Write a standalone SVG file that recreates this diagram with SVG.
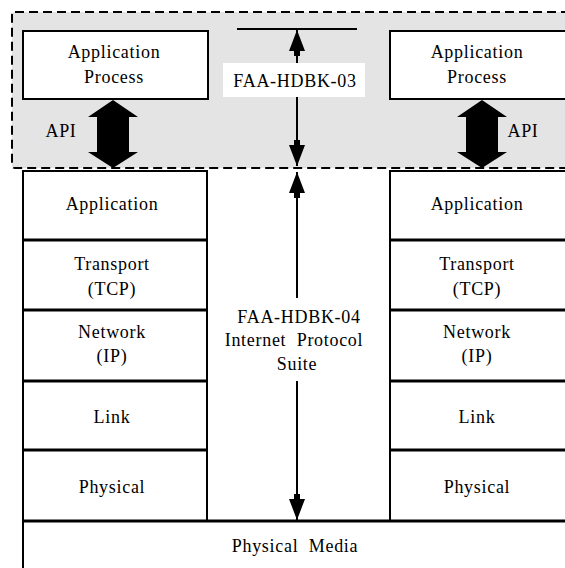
<svg xmlns="http://www.w3.org/2000/svg" width="565" height="568" viewBox="0 0 565 568">
<style>
.box{fill:#fff;stroke:#000;stroke-width:2}
.div{stroke:#000;stroke-width:3;fill:none}
.t{font-family:"Liberation Serif",serif;font-size:18px;fill:#000;text-anchor:middle;letter-spacing:0.7px}
.thin{stroke:#000;stroke-width:2;fill:none}
.big{fill:#000}
</style>
<defs>
<marker id="head" viewBox="-27 -9 28 18" refX="0" refY="0" markerWidth="28" markerHeight="18" markerUnits="userSpaceOnUse" orient="auto-start-reverse">
<path d="M0,0 L-21,-8 L-21,-3 L-26,-3 L-26,3 L-21,3 L-21,8 Z" fill="#000"/>
</marker>
</defs>
<rect id="region" x="12" y="12" width="560" height="156" rx="3" fill="#e4e4e4" stroke="#000" stroke-width="2" stroke-dasharray="9 5"/>

<g id="app-process-left">
<rect class="box" x="23" y="31" width="185" height="68"/>
<text class="t" x="114" y="58">Application</text>
<text class="t" x="114" y="83">Process</text>
</g>
<g id="app-process-right">
<rect class="box" x="390" y="31" width="180" height="68"/>
<text class="t" x="477" y="58">Application</text>
<text class="t" x="477" y="83">Process</text>
</g>

<g id="stack-left">
<rect class="box" x="23" y="171" width="184" height="350"/>
<path class="div" d="M23,240H207M23,310H207M23,381H207M23,450H207"/>
<text class="t" x="112" y="210">Application</text>
<text class="t" x="112" y="270">Transport</text>
<text class="t" x="112" y="295">(TCP)</text>
<text class="t" x="112" y="338">Network</text>
<text class="t" x="112" y="362">(IP)</text>
<text class="t" x="112" y="423">Link</text>
<text class="t" x="112" y="493">Physical</text>
</g>
<g id="stack-right">
<rect class="box" x="390" y="171" width="180" height="350"/>
<path class="div" d="M390,240H566M390,310H566M390,381H566M390,450H566"/>
<text class="t" x="477" y="210">Application</text>
<text class="t" x="477" y="270">Transport</text>
<text class="t" x="477" y="295">(TCP)</text>
<text class="t" x="477" y="338">Network</text>
<text class="t" x="477" y="362">(IP)</text>
<text class="t" x="477" y="423">Link</text>
<text class="t" x="477" y="493">Physical</text>
</g>
<g id="physical-media">
<rect class="box" x="23" y="521" width="547" height="60"/>
<path class="div" d="M23,521H566"/>
<text class="t" x="295" y="552">Physical&#160; Media</text>
</g>

<g id="connectors">
<path class="big" d="M113,100 L138,117 L129,117 L129,152 L138,152 L113,168 L88,152 L97,152 L97,117 L88,117 Z"/>
<path class="big" d="M482,100 L507,117 L498,117 L498,152 L507,152 L482,168 L457,152 L466,152 L466,117 L457,117 Z"/>
<path class="thin" d="M237,29H357"/>
<line class="thin" x1="297" y1="30" x2="297" y2="166" marker-start="url(#head)" marker-end="url(#head)"/>
<line class="thin" x1="297" y1="172" x2="297" y2="298" marker-start="url(#head)"/>
<line class="thin" x1="297" y1="381" x2="297" y2="520" marker-end="url(#head)"/>
</g>

<g id="label-hdbk03">
<rect x="223" y="63" width="142" height="34" fill="#fff"/>
<text class="t" x="295" y="87">FAA-HDBK-03</text>
</g>
<g id="label-hdbk04">
<text class="t" x="299" y="323">FAA-HDBK-04</text>
<text class="t" x="294" y="346">Internet&#160; Protocol</text>
<text class="t" x="297" y="370">Suite</text>
</g>
<g id="api-labels">
<text class="t" x="61" y="137">API</text>
<text class="t" x="523" y="137">API</text>
</g>
</svg>
